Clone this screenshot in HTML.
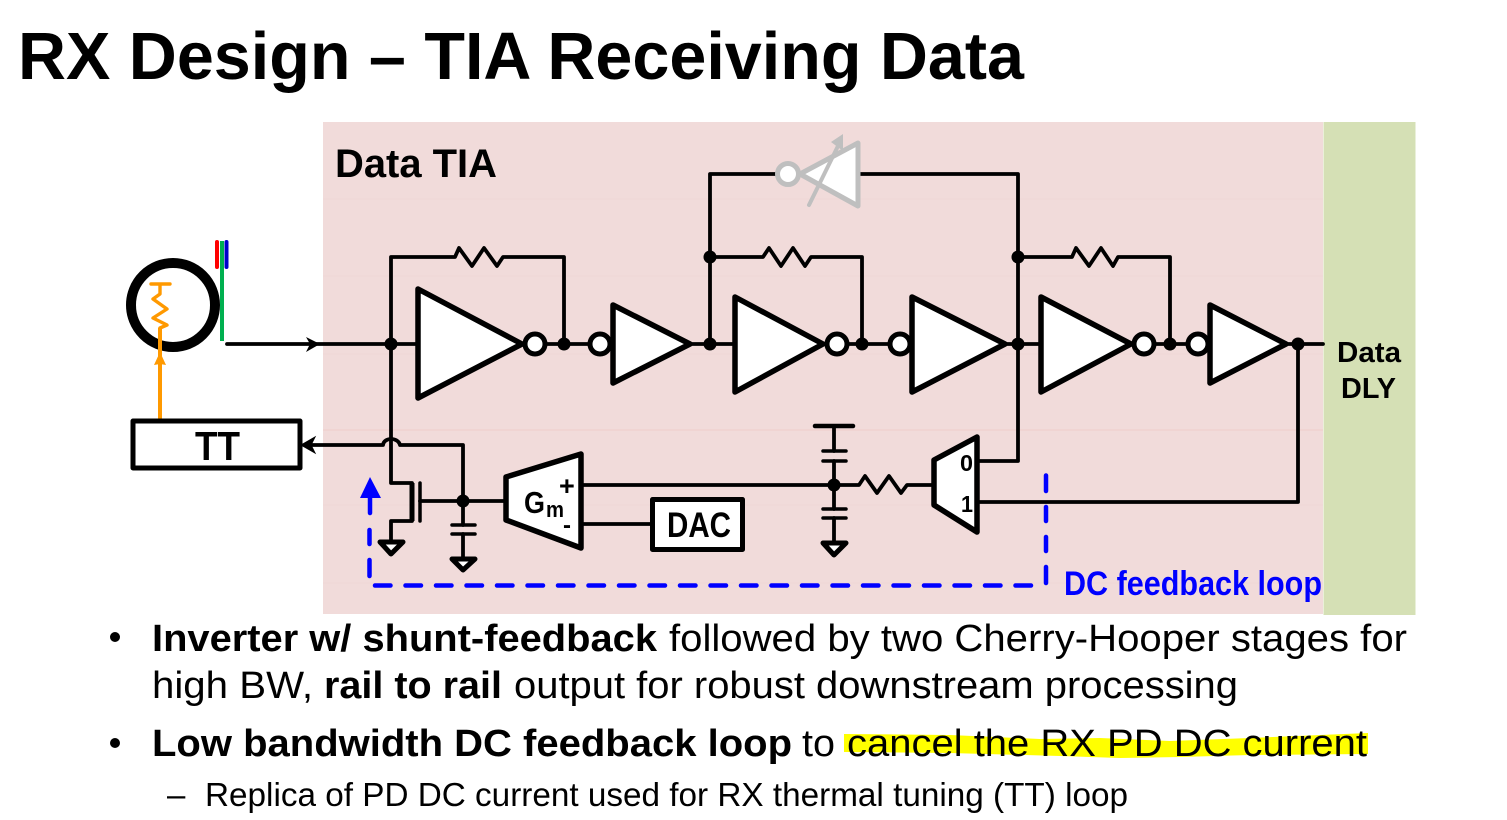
<!DOCTYPE html>
<html><head><meta charset="utf-8"><style>
html,body{margin:0;padding:0;background:#fff}
svg{display:block}
text{font-family:"Liberation Sans",sans-serif;fill:#000}
.b{font-weight:bold}
.t{font-size:38px}
.w{fill:none;stroke:#000;stroke-width:3.8;stroke-linejoin:round;stroke-linecap:round}
.s{fill:#fff;stroke:#000;stroke-width:5.5;stroke-linejoin:round}
.c{fill:#fff;stroke:#000;stroke-width:5}
.g{fill:#fff;stroke:#000;stroke-width:5;stroke-linejoin:round}
</style></head><body>
<svg width="1507" height="820" viewBox="0 0 1507 820" xmlns="http://www.w3.org/2000/svg">
<text x="18" y="79" class="b" font-size="67" textLength="1006" lengthAdjust="spacingAndGlyphs">RX Design – TIA Receiving Data</text>

<rect x="323" y="122" width="1000" height="492" fill="#f1dbda"/>
<rect x="1323.500" y="122" width="92" height="493" fill="#d5e0b5"/>
<g stroke="#efd3d0" stroke-width="1.2"><path d="M323 430H1323" stroke-width="1.800"/><path d="M323 199H1323M323 276H1323M323 354H1323M323 505H1323M323 583H1323" stroke="#f0d8d6"/></g>

<text x="335" y="177" class="b" font-size="40" textLength="162" lengthAdjust="spacingAndGlyphs">Data TIA</text>

<!-- ring -->
<circle cx="173" cy="305" r="42" fill="#fff" stroke="#000" stroke-width="10"/>
<path d="M217 242V267" stroke="#f00" stroke-width="4" stroke-linecap="round"/>
<path d="M226.500 242V267" stroke="#00c" stroke-width="4" stroke-linecap="round"/>
<path d="M222 241V341" stroke="#00b050" stroke-width="4"/>
<!-- orange -->
<path d="M160 328L167 325L153 318L167 309L153 299L160 294V284M151 284H170" fill="none" stroke="#f90" stroke-width="3.400" stroke-linejoin="round" stroke-linecap="round"/>
<path d="M160 420V328" fill="none" stroke="#f90" stroke-width="4"/>
<path d="M160 352L166 365L160 364L154 365Z" fill="#f90"/>

<!-- wires -->
<path class="w" d="M227 344H918"/>
<path d="M320 344L306 337L310 344L306 352Z" fill="#000"/>
<path class="w" d="M918 344H1323"/>
<path class="w" d="M391 344V483H412M412 521H391V541"/>
<path class="w" d="M391 344V257H455L459 248L472 266L484 248L497 266L503 257H564V344"/>
<path class="w" d="M710 344V174H776M860 174H1018V461H977"/>
<path class="w" d="M710 257H763L769 248L781 266L793 248L805 266L811 257H862V344"/>
<path class="w" d="M1018 257H1072L1076 248L1089 266L1101 248L1113 266L1118 257H1170V344"/>
<path class="w" d="M1298 344V502H977"/>
<path class="w" d="M312 445H383C384 437 398 437 400 445H463V501"/>
<path class="w" d="M420 501H506"/>
<path class="w" d="M463 501V525M463 534V559"/>
<path class="w" d="M581 485H859L865 476L877 493L889 476L901 493L907 485H934"/>
<path class="w" d="M581 524H652"/>
<path class="w" d="M834 426V451M834 461V509M834 518V543"/>
<path d="M301 445L315 437L311 445L315 453Z" fill="#000" stroke="#000" stroke-width="1"/>

<!-- MOS -->
<path d="M412 483V521" stroke="#000" stroke-width="5" fill="none"/>
<path d="M420 483V521" stroke="#000" stroke-width="3.500" fill="none" stroke-linecap="round"/>
<!-- caps -->
<path d="M452 525H475M452 534H475M823 451H846M823 461H846M823 509H846M823 518H846" stroke="#000" stroke-width="3.500" stroke-linecap="round"/>
<path d="M815 426H853" stroke="#000" stroke-width="4.500" stroke-linecap="round"/>
<!-- grounds -->
<path class="g" d="M380 542H403L391 554Z"/>
<path class="g" d="M452 559H475L463 570Z"/>
<path class="g" d="M823 543H846L834 555Z"/>

<!-- amps -->
<path class="s" d="M418 289L522 344L418 398Z"/><circle class="c" cx="535" cy="344" r="10"/>
<circle class="c" cx="600" cy="344" r="10"/><path class="s" d="M613 305L690 344L613 383Z"/>
<path class="s" d="M735 297L823 344L735 392Z"/><circle class="c" cx="837" cy="344" r="10"/>
<circle class="c" cx="900" cy="344" r="10"/><path class="s" d="M912 297L1005 344L912 392Z"/>
<path class="s" d="M1041 297L1131 344L1041 392Z"/><circle class="c" cx="1144" cy="344" r="10"/>
<circle class="c" cx="1198" cy="344" r="10"/><path class="s" d="M1210 305L1286 344L1210 383Z"/>

<!-- gray inverter -->
<path d="M800 174L858 143V206Z" fill="#fff" stroke="#bfbfbf" stroke-width="5" stroke-linejoin="round"/>
<circle cx="788" cy="174" r="10.500" fill="#fff" stroke="#bfbfbf" stroke-width="5"/>
<path d="M809 205L838 146" stroke="#bfbfbf" stroke-width="4" stroke-linecap="round"/>
<path d="M843 134L843 151L831 142Z" fill="#bfbfbf"/>

<!-- nodes -->
<g fill="#000"><circle cx="391" cy="344" r="6.500"/><circle cx="564" cy="344" r="6.500"/><circle cx="710" cy="344" r="6.500"/><circle cx="710" cy="257" r="6.500"/><circle cx="862" cy="344" r="6.500"/><circle cx="1018" cy="344" r="6.500"/><circle cx="1018" cy="257" r="6.500"/><circle cx="1170" cy="344" r="6.500"/><circle cx="1298" cy="344" r="6.500"/><circle cx="463" cy="501" r="6.500"/><circle cx="834" cy="485" r="6.500"/></g>

<!-- TT -->
<rect x="133" y="421" width="167" height="47" fill="#fff" stroke="#000" stroke-width="5" stroke-linejoin="round"/>
<text x="195" y="460" class="b" font-size="41" textLength="45" lengthAdjust="spacingAndGlyphs">TT</text>

<!-- Gm -->
<path class="s" d="M506 477L581 454V548L506 520Z"/>
<text x="524" y="513" class="b" font-size="31" textLength="21" lengthAdjust="spacingAndGlyphs">G</text>
<text x="546" y="517" class="b" font-size="22" textLength="18" lengthAdjust="spacingAndGlyphs">m</text>
<text x="559" y="495" class="b" font-size="27">+</text>
<text x="563" y="533" class="b" font-size="24">-</text>

<!-- DAC -->
<rect x="652.500" y="499.500" width="90" height="50" fill="#fff" stroke="#000" stroke-width="5" stroke-linejoin="round"/>
<text x="667" y="537" class="b" font-size="35" textLength="64" lengthAdjust="spacingAndGlyphs">DAC</text>

<!-- Mux -->
<path class="s" d="M934 460L977 437V532L934 505Z"/>
<text x="960" y="471" class="b" font-size="23" textLength="13" lengthAdjust="spacingAndGlyphs">0</text>
<text x="961" y="512" class="b" font-size="23" textLength="12" lengthAdjust="spacingAndGlyphs">1</text>

<!-- blue loop -->
<path d="M370 477L381 498H360Z" fill="#00f"/>
<path d="M370 498V513M369.500 530V544M369.500 560V576" stroke="#00f" stroke-width="4.500" stroke-linecap="round" fill="none"/>
<path d="M375 585.500H1034" stroke="#00f" stroke-width="4.500" stroke-dasharray="15.500 15" stroke-linecap="round" fill="none"/>
<path d="M1046 475.500V491M1046 507V521M1046 537V551M1046 567V583" stroke="#00f" stroke-width="4.500" stroke-linecap="round" fill="none"/>
<text x="1064" y="595" class="b" font-size="34" textLength="258" lengthAdjust="spacingAndGlyphs" style="fill:#00f">DC feedback loop</text>

<text x="1337" y="362" class="b" font-size="29" textLength="64" lengthAdjust="spacingAndGlyphs">Data</text>
<text x="1341" y="398" class="b" font-size="29" textLength="55" lengthAdjust="spacingAndGlyphs">DLY</text>

<!-- highlight -->
<path d="M844 734L950 735L1040 739L1100 738L1170 741L1250 738L1368 733V754L1250 755L1180 757L1120 758L1060 756L950 753L844 752Z" fill="#ff0"/>

<!-- bullets -->
<circle cx="115" cy="637" r="5"/><circle cx="115" cy="743" r="5"/>
<text x="152" y="651" class="t b" textLength="505" lengthAdjust="spacingAndGlyphs">Inverter w/ shunt-feedback</text>
<text x="669" y="651" class="t" textLength="738" lengthAdjust="spacingAndGlyphs">followed by two Cherry-Hooper stages for</text>
<text x="152" y="698" class="t" textLength="161" lengthAdjust="spacingAndGlyphs">high BW,</text>
<text x="324" y="698" class="t b" textLength="178" lengthAdjust="spacingAndGlyphs">rail to rail</text>
<text x="514" y="698" class="t" textLength="724" lengthAdjust="spacingAndGlyphs">output for robust downstream processing</text>
<text x="152" y="756" class="t b" textLength="640" lengthAdjust="spacingAndGlyphs">Low bandwidth DC feedback loop</text>
<text x="802" y="756" class="t" textLength="33" lengthAdjust="spacingAndGlyphs">to</text>
<text x="847" y="756" class="t" textLength="520" lengthAdjust="spacingAndGlyphs">cancel the RX PD DC current</text>
<text x="167" y="806" font-size="33">–</text>
<text x="205" y="806" font-size="33" textLength="923" lengthAdjust="spacingAndGlyphs">Replica of PD DC current used for RX thermal tuning (TT) loop</text>
</svg>
</body></html>
